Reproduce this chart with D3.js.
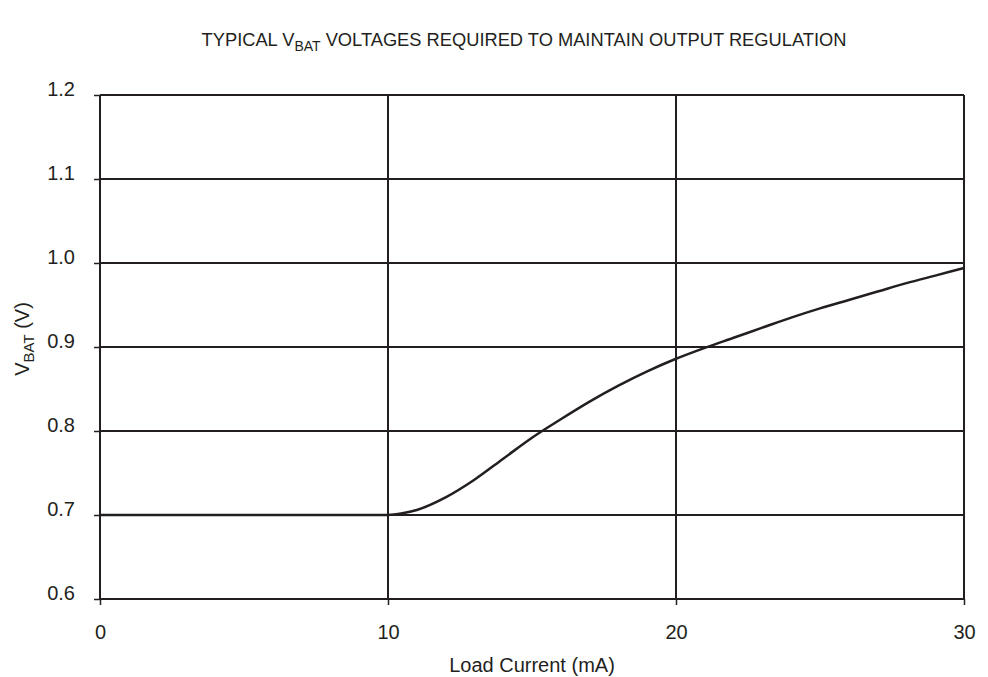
<!DOCTYPE html>
<html>
<head>
<meta charset="utf-8">
<script src="https://cdn.jsdelivr.net/npm/d3@7"></script>
<style>
  body { margin: 0; background: #fff; }
  text { font-family: "Liberation Sans", Arial, Helvetica, sans-serif; fill: #231f20; }
</style>
</head>
<body>
<div id="chart"></div>
<script>
// Data
const loadCurrent = [0, 10, 10.5, 11, 12, 13, 14, 15, 16, 17, 18, 19, 20, 21, 22, 23, 24, 25, 26, 27, 28, 29, 30];
const vbat = [0.700, 0.700, 0.702, 0.706, 0.721, 0.742, 0.767, 0.792, 0.814, 0.835, 0.854, 0.871, 0.886,
  0.899, 0.911, 0.923, 0.935, 0.946, 0.956, 0.966, 0.976, 0.985, 0.994];
const xTicks = [0, 10, 20, 30];
const yTicks = [0.6, 0.7, 0.8, 0.9, 1.0, 1.1, 1.2];

const ink = '#231f20';
const margin = { left: 100, right: 24, top: 95, bottom: 78 };
const W = 988, H = 677;
const width = W - margin.left - margin.right;
const height = H - margin.top - margin.bottom;

const svg = d3.select('#chart').append('svg').attr('width', W).attr('height', H);
const g = svg.append('g').attr('transform', 'translate(' + margin.left + ',' + margin.top + ')');

const x = d3.scaleLinear().domain([0, 30]).range([0, width]);
const y = d3.scaleLinear().domain([0.6, 1.2]).range([height, 0]);

// Grid lines
g.selectAll('.hgrid').data(yTicks).enter().append('line')
  .attr('x1', 0).attr('x2', width)
  .attr('y1', d => y(d)).attr('y2', d => y(d))
  .attr('stroke', ink).attr('stroke-width', 2);
g.selectAll('.vgrid').data(xTicks).enter().append('line')
  .attr('y1', 0).attr('y2', height)
  .attr('x1', d => x(d)).attr('x2', d => x(d))
  .attr('stroke', ink).attr('stroke-width', 2);

// Axes (ticks + labels)
const xAxis = g.append('g').attr('transform', 'translate(0,' + height + ')')
  .call(d3.axisBottom(x).tickValues(xTicks).tickSize(6).tickPadding(20).tickFormat(d3.format('d')));
const yAxis = g.append('g')
  .call(d3.axisLeft(y).tickValues(yTicks).tickSize(6).tickPadding(19).tickFormat(d3.format('.1f')));
[xAxis, yAxis].forEach(a => {
  a.select('.domain').remove();
  a.selectAll('line').attr('stroke', ink).attr('stroke-width', 1.5);
  a.selectAll('text').attr('font-size', 20).style('fill', ink);
});
yAxis.selectAll('text').attr('dy', '0em');

// Curve
const line = d3.line()
  .x((d, i) => x(loadCurrent[i]))
  .y(d => y(d))
  .curve(d3.curveMonotoneX);
g.append('path')
  .attr('d', line(vbat))
  .attr('fill', 'none')
  .attr('stroke', ink)
  .attr('stroke-width', 2.5);

// Title
const title = svg.append('text')
  .attr('x', 524).attr('y', 46)
  .attr('text-anchor', 'middle')
  .attr('font-size', 18.3);
title.append('tspan').text('TYPICAL V');
title.append('tspan').attr('font-size', 14).attr('dy', 5).text('BAT');
title.append('tspan').attr('dy', -5).text(' VOLTAGES REQUIRED TO MAINTAIN OUTPUT REGULATION');

// X label
svg.append('text')
  .attr('x', margin.left + width / 2).attr('y', 672)
  .attr('text-anchor', 'middle')
  .attr('font-size', 20)
  .text('Load Current (mA)');

// Y label
const yl = svg.append('text')
  .attr('transform', 'translate(29,339) rotate(-90)')
  .attr('text-anchor', 'middle')
  .attr('font-size', 20);
yl.append('tspan').text('V');
yl.append('tspan').attr('font-size', 15).attr('dy', 5).text('BAT');
yl.append('tspan').attr('dy', -5).text(' (V)');
</script>
</body>
</html>
